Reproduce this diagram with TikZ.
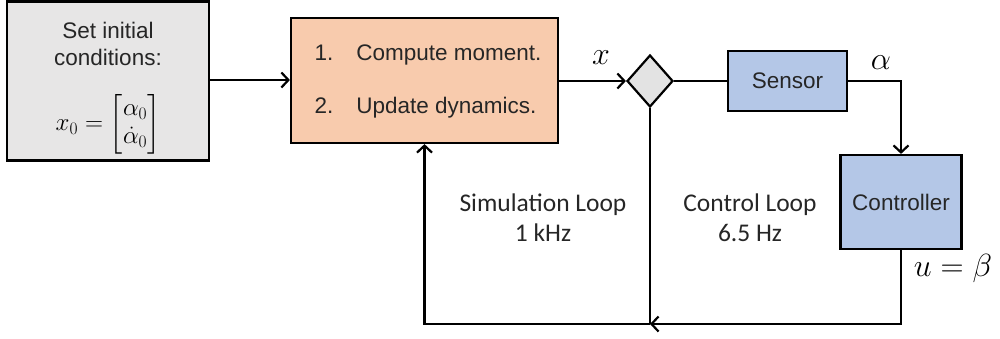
\RequirePackage{fix-cm}
\documentclass[tikz,border=0pt]{standalone}
\usepackage{amsmath}
\usepackage{fontspec}
\setmainfont{Liberation Sans}
\newfontfamily\loopfont{Carlito}
\usetikzlibrary{arrows.meta,shapes.geometric}
\definecolor{txt}{HTML}{262626}
\definecolor{initfill}{HTML}{E7E6E6}
\definecolor{simfill}{HTML}{F8CBAD}
\definecolor{blockfill}{HTML}{B4C7E7}
\definecolor{joinfill}{HTML}{E3E3E3}
\tikzset{
  x=1pt, y=-1pt,
  every node/.style={text=txt},
  wire/.style={line width=2.2pt, black},
  flow/.style={wire, -{Straight Barb[length=7pt,width=15pt,line width=2.2pt]}},
  blockbox/.style={draw=black, line width=2.2pt, inner sep=0pt,
    font=\fontsize{22.5}{27}\selectfont},
  loopnote/.style={align=center, font=\loopfont\fontsize{25.5}{30}\selectfont},
  mathlabel/.style={font=\fontsize{32}{36}\selectfont, text=black}
}
\begin{document}
\begin{tikzpicture}
\useasboundingbox (0,0) rectangle (1000,338);

% blocks
\node[blockbox, fill=initfill, minimum width=202pt, minimum height=159pt] (init) at (108,81) {};
\node[align=center, font=\fontsize{22.5}{27}\selectfont] (inittext) at (108,44) {Set initial\\conditions:};
\node[font=\fontsize{25}{30}\selectfont, text=black] (initmath) at (108,124)
  {$x_0=\renewcommand{\arraystretch}{0.95}\begin{bmatrix}\alpha_0\\ \dot{\alpha}_0\end{bmatrix}$};

\node[blockbox, fill=simfill, minimum width=267pt, minimum height=125pt] (sim) at (424.5,80.5) {};
\node[font=\fontsize{22.5}{27}\selectfont, anchor=west] (step1) at (311,55) {1.\hspace{23pt}Compute moment.};
\node[font=\fontsize{22.5}{27}\selectfont, anchor=west] (step2) at (311,108) {2.\hspace{23pt}Update dynamics.};

\node[diamond, draw=black, line width=2.2pt, fill=joinfill, inner sep=0pt,
      minimum width=46pt, minimum height=52pt] (join) at (650,81) {};

\node[blockbox, fill=blockfill, minimum width=119pt, minimum height=60pt] (sensor) at (787.5,81) {Sensor};
\node[blockbox, fill=blockfill, minimum width=121pt, minimum height=94pt] (ctrl) at (901,202) {Controller};

% loop labels
\node[loopnote] (simloop) at (543,218) {Simulation Loop\\1 kHz};
\node[loopnote] (ctrlloop) at (750,218) {Control Loop\\6.5 Hz};

% signal labels
\node[mathlabel] (xlab) at (601,58) {$x$};
\node[mathlabel] (alab) at (881,63) {$\alpha$};
\node[mathlabel] (ulab) at (953,268) {$u=\beta$};

% connectors
\coordinate (corner) at (ctrl.north |- sensor.east);
\coordinate (merge) at (join.south |- 0,324);
\draw[flow] (init.east |- 0,80) -- (sim.west |- 0,80);
\draw[flow] (sim.east |- join.west) -- (join.west);
\draw[wire] (join.east) -- (sensor.west);
\draw[flow] (sensor.east) -- (corner) -- (ctrl.north);
\draw[flow] (ctrl.south) |- (merge);
\draw[flow] (merge) -| (sim.south);
\draw[wire] (join.south) -- (merge);
\end{tikzpicture}
\end{document}
